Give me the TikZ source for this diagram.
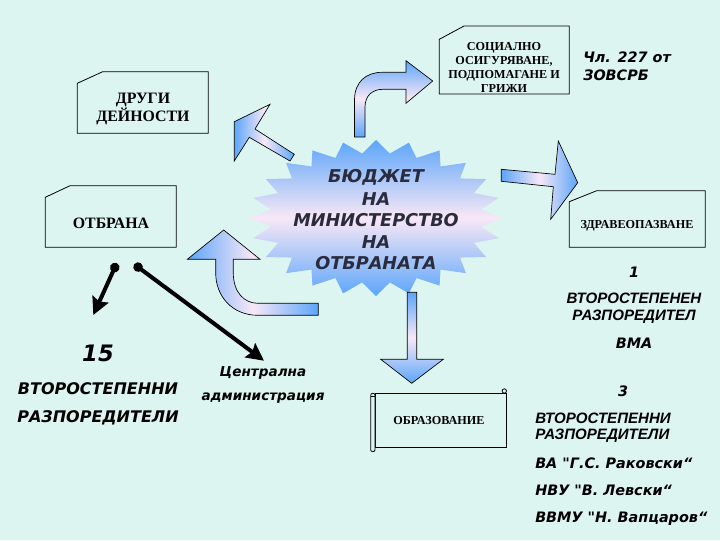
\documentclass[tikz,border=0pt]{standalone}
\usepackage{fontspec}
\setmainfont{Liberation Serif}
\setsansfont[Ligatures=TeXOff]{DejaVu Sans}
\newfontfamily\arialfont{Liberation Sans}
\usetikzlibrary{shapes.geometric, positioning, arrows.meta}
\definecolor{bgcolor}{RGB}{221,245,240}
\definecolor{skyblue}{RGB}{92,165,250}
\definecolor{palepink}{RGB}{248,232,246}
\definecolor{darktext}{RGB}{42,44,62}
\tikzset{
  boxlabel/.style={font=\fontsize{9.15}{10.5}\selectfont\bfseries, align=center, inner sep=0pt},
  biglabel/.style={font=\fontsize{11.9}{13.5}\selectfont\bfseries, align=center, inner sep=0pt},
  verdlabel/.style={font=\fontsize{10.8}{12}\selectfont\sffamily\bfseries\itshape, inner sep=0pt},
  ariallabel/.style={font=\fontsize{11.3}{12}\selectfont\arialfont\bfseries\itshape, inner sep=0pt},
  leftlabel/.style={font=\fontsize{12}{14}\selectfont\sffamily\bfseries\itshape, inner sep=0pt},
  startitle/.style={font=\fontsize{13.25}{16}\selectfont\sffamily\bfseries\itshape, text=darktext, inner sep=0pt},
  gradh/.style={draw=black, line width=0.5pt, left color=skyblue, right color=skyblue, middle color=palepink},
  gradv/.style={draw=black, line width=0.5pt, top color=skyblue, bottom color=skyblue, middle color=palepink},
  pointer/.style={line width=3pt, {Circle[length=7pt]}-{Stealth[length=13pt,width=13pt,inset=2pt]}},
  frame/.style={draw=black, line width=0.6pt, fill=bgcolor}
}
\begin{document}
\begin{tikzpicture}[x=0.75pt, y=-0.75pt]
  \useasboundingbox (0, 0) rectangle (720, 540);
  \fill[bgcolor] (0, 0) rectangle (720, 540);

  % star
  \node[star, star points=24, star point ratio=1.2, top color=skyblue, bottom color=skyblue, middle color=palepink, minimum size=117pt, inner sep=0pt, xscale=1.63] (budget) at (376, 218) {};
  \node[startitle] (t1) at (376, 177) {БЮДЖЕТ};
  \node[startitle] (t2) at (376, 199) {НА};
  \node[startitle] (t3) at (376, 220) {МИНИСТЕРСТВО};
  \node[startitle] (t4) at (376, 242) {НА};
  \node[startitle] (t5) at (376, 263) {ОТБРАНАТА};

  % block arrows
  \draw[gradv] (354.5, 137) -- (354.5, 100) .. controls (354.5, 82) and (366, 72.3) .. (382, 72.3) -- (406, 72.3) -- (406, 60.7) -- (432.7, 81) -- (406, 103.3) -- (406, 89.3) -- (383, 89.3) .. controls (372, 89.3) and (365, 96) .. (365, 107) -- (365, 137) -- cycle;
  \draw[gradh] (234.3, 121.7) -- (270, 104.3) -- (255, 129) -- (294.3, 154.3) -- (290, 161) -- (249.3, 137.3) -- (234.3, 161) -- cycle;
  \draw[gradh] (501.3, 169.3) -- (555, 174.3) -- (558.3, 141) -- (577.7, 182.7) -- (550.7, 219.3) -- (553.3, 186.7) -- (501.3, 181.3) -- cycle;
  \draw[gradv] (407.3, 292.3) -- (416.7, 292.3) -- (416.7, 359.3) -- (443.3, 359.3) -- (411.7, 383.3) -- (380.7, 359.3) -- (407.3, 359.3) -- cycle;
  \draw[gradh] (223.7, 230) -- (260, 259.3) -- (233.3, 259.3) -- (233.3, 273) .. controls (233.3, 292) and (244, 303.3) .. (258, 303.3) -- (318.3, 303.3) -- (318.3, 315.3) -- (258, 315.3) .. controls (232, 315.3) and (215.7, 296) .. (215.7, 273) -- (215.7, 259.3) -- (187.3, 259.3) -- cycle;

  % boxes
  \draw[frame] (439.3, 39.3) -- (464, 26) -- (569.3, 26) -- (569.3, 94) -- (439.3, 94) -- cycle;
  \node[boxlabel] (social) at (504, 67) {СОЦИАЛНО\\ОСИГУРЯВАНЕ,\\ПОДПОМАГАНЕ И\\ГРИЖИ};
  \draw[frame] (569.3, 201.7) -- (596.7, 190.7) -- (705.3, 190.7) -- (705.3, 247.3) -- (569.3, 247.3) -- cycle;
  \node[boxlabel] (health) at (637, 226) {ЗДРАВЕОПАЗВАНЕ};
  \draw[frame] (77.3, 83.3) -- (102.7, 71.7) -- (208.3, 71.7) -- (208.3, 133.3) -- (77.3, 133.3) -- cycle;
  \node[biglabel] (other) at (143, 109) {ДРУГИ\\ДЕЙНОСТИ};
  \draw[frame] (45.3, 197.3) -- (70, 185.7) -- (176.3, 185.7) -- (176.3, 247.3) -- (45.3, 247.3) -- cycle;
  \node[biglabel] (defence) at (111, 223) {ОТБРАНА};

  % scroll
  \draw[frame] (375, 393.3) -- (506, 393.3) -- (506, 447.3) -- (375, 447.3) -- cycle;
  \draw[frame, rounded corners=1.5pt] (370.7, 393.3) rectangle (375, 451.7);
  \draw[frame] (504.3, 391) circle (2.2);
  \draw[line width=0.6pt] (370.7, 396) -- (375, 396);
  \node[boxlabel] (school) at (439, 421) {ОБРАЗОВАНИЕ};

  % connectors
  \coordinate (s1) at (116.7, 263.3);
  \coordinate (e1) at (93.3, 315);
  \coordinate (s2) at (134.3, 264.3);
  \coordinate (e2) at (264, 360.7);
  \draw[pointer] (s1) -- (e1);
  \draw[pointer] (s2) -- (e2);

  % texts
  \node[verdlabel, anchor=west] (art1) at (583, 57) {Чл. 227 от};
  \node[verdlabel, anchor=west] (art2) at (583, 75) {ЗОВСРБ};
  \node[verdlabel] (one) at (634, 272) {1};
  \node[ariallabel] (sec1) at (634, 298) {ВТОРОСТЕПЕНЕН};
  \node[ariallabel] (sec2) at (634, 317) {РАЗПОРЕДИТЕЛ};
  \node[verdlabel] (vma) at (634, 343) {ВМА};
  \node[verdlabel] (three) at (623, 391) {3};
  \node[ariallabel, anchor=west] (third1) at (535, 418) {ВТОРОСТЕПЕННИ};
  \node[ariallabel, anchor=west] (third2) at (535, 436) {РАЗПОРЕДИТЕЛИ};
  \node[verdlabel, anchor=base west] (va) at (535, 468) {ВА "Г.С. Раковски“};
  \node[verdlabel, anchor=base west] (nvu) at (535, 495) {НВУ "В. Левски“};
  \node[verdlabel, anchor=base west] (vvmu) at (535, 522) {ВВМУ "Н. Вапцаров“};
  \node[leftlabel, font=\fontsize{17}{20}\selectfont\sffamily\bfseries\itshape] (fifteen) at (98, 353) {15};
  \node[leftlabel] (left1) at (98, 389) {ВТОРОСТЕПЕННИ};
  \node[leftlabel] (left2) at (98, 418) {РАЗПОРЕДИТЕЛИ};
  \node[verdlabel, font=\fontsize{10.2}{12}\selectfont\sffamily\bfseries\itshape] (central) at (263, 373) {Централна};
  \node[verdlabel, font=\fontsize{10.2}{12}\selectfont\sffamily\bfseries\itshape] (admin) at (263, 398) {администрация};
\end{tikzpicture}
\end{document}
